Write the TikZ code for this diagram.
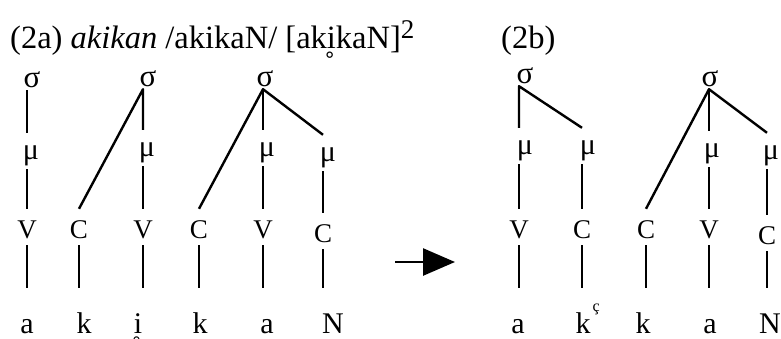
\documentclass[tikz,border=0pt]{standalone}
\usepackage{fontspec}
\setmainfont{Liberation Serif}
\usetikzlibrary{arrows.meta}
% vowel with a small ring set under it
\newcommand{\subring}[1]{\ooalign{#1\cr\hidewidth\kern-0.1em\raisebox{-0.86em}{\char"02DA}\hidewidth\cr}}
\begin{document}
\begin{tikzpicture}[x=1pt, y=-1pt, line width=2.4pt, line join=round,
  ttl/.style={inner sep=0pt, anchor=base west, font=\fontsize{32.5}{32.5}\selectfont},
  sig/.style={inner sep=0pt, anchor=base, font=\fontsize{31}{31}\selectfont, text height=14pt, text depth=2pt},
  mu/.style={inner sep=0pt, anchor=base, font=\fontsize{30}{30}\selectfont, text height=25pt, text depth=9pt},
  seg/.style={inner sep=0pt, anchor=base, font=\fontsize{27}{27}\selectfont, text height=28pt, text depth=6pt},
  snd/.style={inner sep=0pt, anchor=base, font=\fontsize{30}{30}\selectfont, text height=44pt, text depth=0pt},
  arr/.style={line width=2.6pt, -{Triangle[length=32pt, width=27pt]}}
]
\useasboundingbox (0,0) rectangle (781,338);

% headings
\node[ttl] (t1) at (9,48) {(2a) \textit{akikan} /akikaN/ [ak\subring{i}kaN]\raisebox{10pt}{\fontsize{27}{27}\selectfont 2}};
\node[ttl] (t2) at (500,48) {(2b)};

% ---------- (2a) ----------
\node[sig] (s1) at (32,87) {σ};
\node[sig] (s2) at (148,86) {σ};
\node[sig] (s3) at (265,86) {σ};

\node[mu] (m1) at (31,159) {μ};
\node[mu] (m3) at (147,156) {μ};
\node[mu] (m5) at (267,156) {μ};
\node[mu] (m6) at (328,161) {μ};

\node[seg] (v1) at (27,238) {V};
\node[seg] (c2) at (79,238) {C};
\node[seg] (v3) at (143,238) {V};
\node[seg] (c4) at (199,238) {C};
\node[seg] (v5) at (263,238) {V};
\node[seg] (c6) at (323,242) {C};

\node[snd] (l1) at (27,333) {a};
\node[snd] (l2) at (84,333) {k};
\node[snd] (l3) at (138,333) {\subring{i}};
\node[snd] (l4) at (200,333) {k};
\node[snd] (l5) at (267,333) {a};
\node[snd] (l6) at (333,333) {N};

\draw (s1.south -| v1) -- (m1.north -| v1);
\draw (m1.south -| v1) -- (v1.north);
\draw (v1.south) -- (l1.north -| v1);

\draw (c2.north) -- (s2.south -| v3) -- (m3.north -| v3);
\draw (c2.south) -- (l2.north -| c2);
\draw (m3.south -| v3) -- (v3.north);
\draw (v3.south) -- (l3.north -| v3);

\draw (c4.north) -- (s3.south -| v5) -- (m6.north -| c6);
\draw (s3.south -| v5) -- (m5.north -| v5);
\draw (c4.south) -- (l4.north -| c4);
\draw (m5.south -| v5) -- (v5.north);
\draw (v5.south) -- (l5.north -| v5);
\draw (m6.south -| c6) -- (c6.north);
\draw (c6.south) -- (l6.north -| c6);

% ---------- arrow ----------
\coordinate (a0) at (395,262);
\coordinate (a1) at (455,262);
\draw[arr] (a0) -- (a1);

% ---------- (2b) ----------
\node[sig] (rs1) at (525,83) {σ};
\node[sig] (rs2) at (710,86) {σ};

\node[mu] (rm1) at (525,154) {μ};
\node[mu] (rm2) at (588,154) {μ};
\node[mu] (rm4) at (712,157) {μ};
\node[mu] (rm5) at (771,159) {μ};

\node[seg] (rv1) at (519,238) {V};
\node[seg] (rc2) at (582,238) {C};
\node[seg] (rc3) at (646,238) {C};
\node[seg] (rv4) at (709,238) {V};
\node[seg] (rc5) at (767,244) {C};

\node[snd] (rl1) at (518,333) {a};
\node[snd] (rl2) at (583,333) {k\rlap{\hspace{2pt}\raisebox{22pt}{\fontsize{16}{16}\selectfont ç}}};
\node[snd] (rl3) at (643,333) {k};
\node[snd] (rl4) at (710,333) {a};
\node[snd] (rl5) at (770,333) {N};

\draw (rm1.north -| rv1) -- (rs1.south -| rv1) -- (rm2.north -| rc2);
\draw (rm1.south -| rv1) -- (rv1.north);
\draw (rv1.south) -- (rl1.north -| rv1);
\draw (rm2.south -| rc2) -- (rc2.north);
\draw (rc2.south) -- (rl2.north -| rc2);

\draw (rc3.north) -- (rs2.south -| rv4) -- (rm5.north -| rc5);
\draw (rs2.south -| rv4) -- (rm4.north -| rv4);
\draw (rc3.south) -- (rl3.north -| rc3);
\draw (rm4.south -| rv4) -- (rv4.north);
\draw (rv4.south) -- (rl4.north -| rv4);
\draw (rm5.south -| rc5) -- (rc5.north);
\draw (rc5.south) -- (rl5.north -| rc5);
\end{tikzpicture}
\end{document}
